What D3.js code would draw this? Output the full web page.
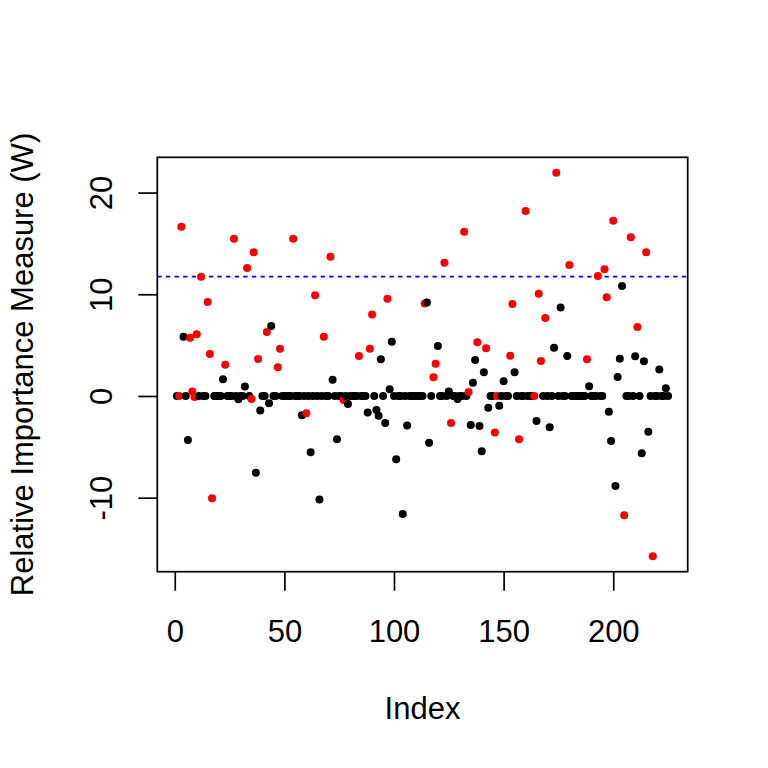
<!DOCTYPE html>
<html><head><meta charset="utf-8">
<script src="https://cdn.jsdelivr.net/npm/d3@7"></script>
<style>body{margin:0;background:#fff}</style>
</head><body>
<svg id="chart" width="768" height="768"></svg>
<script>
// Relative importance measure W for index 1..225
const W = [
  0, 0, 16.65, 5.83, 0, -4.33, 5.73, 0.45, -0.1, 6.06, 0, 11.73, 0, 0, 9.24, 4.13, -10.06, 0, 0, 0, 0, 1.64, 3.08, 0, 0,
  0, 15.47, 0, -0.33, 0, 0, 0.92, 12.59, 0, -0.3, 14.13, -7.54, 3.64, -1.44, 0, 0, 6.29, -0.72, 6.88, 0, 0, 2.82, 4.65, 0, 0,
  0, 0, 0, 15.47, 0, 0, 0, -1.9, 0, -1.7, 0, -5.54, 0, 9.9, 0, -10.19, 0, 5.83, 0, 0, 13.7, 1.6, 0, -4.26, 0,
  0, -0.4, 0, -0.8, 0, 0, 0, 0, 3.93, 0, 0, 0, -1.62, 4.65, 8.0, 0, -1.38, -1.95, 3.6, 0, -2.65, 9.57, 0.67, 5.34, 0,
  -6.23, 0, 0, -11.6, 0, -2.9, 0, 0, 0, 0, 0, 0, 0, 9.1, 9.2, -4.59, 0, 1.85, 3.18, 4.92, 0, 0, 13.1, 0, 0.45,
  -2.65, 0, 0, -0.3, 0, 0, 16.16, 0, 0.4, -2.85, 1.31, 3.54, 5.28, -2.95, -5.44, 2.33, 4.69, -1.15, 0, 0, -3.6, 0, -0.95, 0, 1.45,
  0, 0, 3.96, 9.05, 2.33, 0, -4.26, 0, 0, 18.19, 0, 0, 0, 0, -2.46, 10.06, 3.44, 0, 7.67, 0, -3.08, 0, 4.75, 21.96, 0,
  8.69, 0, 0, 3.93, 12.88, 0, 0, 0, 0, 0, 0, 0, 3.6, 0.95, 0, 0, 0, 11.8, 0, 0, 12.46, 9.7, -1.54, -4.43, 17.24,
  -8.85, 1.87, 3.67, 10.82, -11.73, 0, 0, 15.6, 0, 3.9, 6.78, 0, -5.64, 3.41, 14.13, -3.51, 0, -15.77, 0, 0, 2.6, 0, 0, 0.75, 0
];
// indices drawn in red
const redIndex = [2,3,7,8,9,10,12,15,16,17,23,27,33,35,36,38,42,47,48,54,60,64,68,71,77,84,89,90,97,
  114,118,119,123,126,132,134,138,142,146,147,153,154,157,160,164,166,167,169,174,180,188,193,196,197,
  200,205,208,211,215,218];
const xTicks = [0, 50, 100, 150, 200];
const yTicks = [-10, 0, 10, 20];
const threshold = 11.73;
const xLabel = "Index";
const yLabel = "Relative Importance Measure (W)";

const FONT = "'Liberation Sans', Arial, Helvetica, sans-serif";
const FS = 31;
const svg = d3.select("#chart");
const plot = {left: 157.3, right: 687.7, top: 157.3, bottom: 571.7};

const idx = W.map((d, i) => i + 1);
const redSet = new Set(redIndex);
function rRange(ext) { const s = ext[1] - ext[0]; return [ext[0] - 0.04 * s, ext[1] + 0.04 * s]; }

const x = d3.scaleLinear().domain(rRange(d3.extent(idx))).range([plot.left, plot.right]);
const y = d3.scaleLinear().domain(rRange(d3.extent(W))).range([plot.bottom, plot.top]);

svg.append("defs").append("clipPath").attr("id", "clip")
  .append("rect").attr("x", plot.left).attr("y", plot.top)
  .attr("width", plot.right - plot.left).attr("height", plot.bottom - plot.top);

// threshold line
svg.append("line")
  .attr("clip-path", "url(#clip)")
  .attr("x1", plot.left).attr("x2", plot.right)
  .attr("y1", y(threshold)).attr("y2", y(threshold))
  .attr("stroke", "#0000FF").attr("stroke-width", 1.8)
  .attr("stroke-dasharray", "4.3,4.3");

// points
svg.append("g").selectAll("circle")
  .data(W.map((v, i) => ({i: i + 1, v})))
  .join("circle")
  .attr("cx", d => x(d.i))
  .attr("cy", d => y(d.v))
  .attr("r", 4)
  .attr("fill", d => redSet.has(d.i) ? "#FF0000" : "#000000");

// box
svg.append("rect")
  .attr("x", plot.left).attr("y", plot.top)
  .attr("width", plot.right - plot.left).attr("height", plot.bottom - plot.top)
  .attr("fill", "none").attr("stroke", "#000").attr("stroke-width", 1.7);

// x axis
const gx = svg.append("g").attr("transform", `translate(0,${plot.bottom})`)
  .call(d3.axisBottom(x).tickValues(xTicks).tickSize(19).tickSizeOuter(0).tickFormat(d3.format("d")));
gx.select(".domain").remove();
gx.selectAll(".tick line").attr("stroke", "#000").attr("stroke-width", 1.7);
gx.selectAll(".tick text").attr("y", 70).attr("dy", null)
  .attr("font-family", FONT).attr("font-size", FS).attr("fill", "#000");

// y axis
const gy = svg.append("g").attr("transform", `translate(${plot.left},0)`)
  .call(d3.axisLeft(y).tickValues(yTicks).tickSize(19).tickSizeOuter(0).tickFormat(d => String(d)));
gy.select(".domain").remove();
gy.selectAll(".tick line").attr("stroke", "#000").attr("stroke-width", 1.7);
gy.selectAll(".tick text").attr("x", null).attr("dy", null)
  .attr("transform", "translate(-45,0) rotate(-90)")
  .attr("text-anchor", "middle")
  .attr("font-family", FONT).attr("font-size", FS).attr("fill", "#000");

// axis titles
svg.append("text")
  .attr("x", (plot.left + plot.right) / 2).attr("y", 719.3)
  .attr("text-anchor", "middle")
  .attr("font-family", FONT).attr("font-size", FS).attr("fill", "#000")
  .text(xLabel);
svg.append("text")
  .attr("transform", `translate(33.3,${(plot.top + plot.bottom) / 2}) rotate(-90)`)
  .attr("text-anchor", "middle")
  .attr("font-family", FONT).attr("font-size", FS).attr("fill", "#000")
  .text(yLabel);
</script>
</body></html>
